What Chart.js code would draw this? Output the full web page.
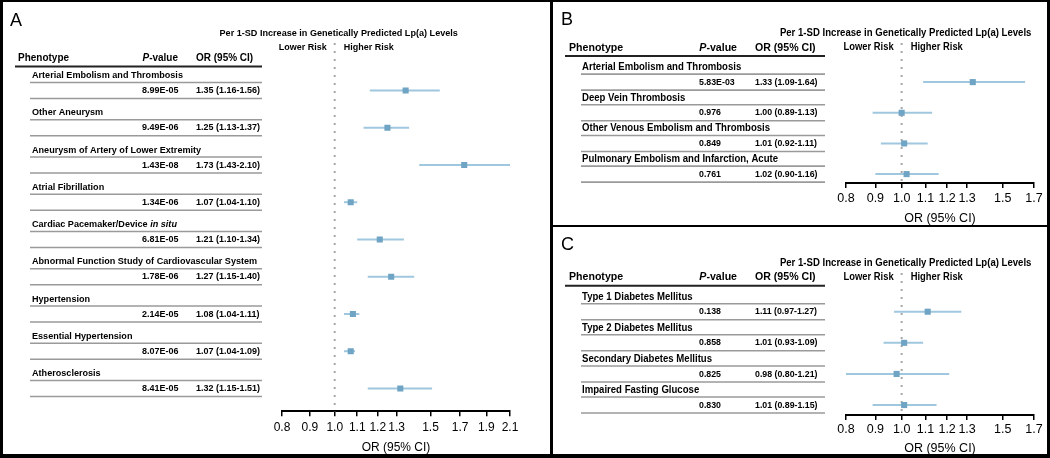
<!DOCTYPE html>
<html><head><meta charset="utf-8">
<script src="https://cdn.jsdelivr.net/npm/chart.js@4.4.0/dist/chart.umd.min.js"></script>
<style>
html,body{margin:0;padding:0;background:#fff;}
#wrap{position:relative;width:1050px;height:458px;overflow:hidden;background:#fff;}
canvas{position:absolute;}
.b{position:absolute;background:#000;}
</style></head><body>
<div id="wrap">
<canvas id="cA" width="550" height="458" style="left:0px;top:0px"></canvas>
<canvas id="cB" width="499" height="226" style="left:551px;top:0px"></canvas>
<canvas id="cC" width="499" height="232" style="left:551px;top:226px"></canvas>
<div class="b" style="left:0;top:0;width:1050px;height:2px"></div>
<div class="b" style="left:0;top:0;width:3px;height:458px"></div>
<div class="b" style="left:1047px;top:0;width:3px;height:458px"></div>
<div class="b" style="left:0;top:454px;width:1050px;height:4px"></div>
<div class="b" style="left:550px;top:0;width:3px;height:458px"></div>
<div class="b" style="left:550px;top:225px;width:500px;height:2px"></div>
</div>
<script>
// ---------- Data ----------
const namesA = ["Arterial Embolism and Thrombosis","Other Aneurysm","Aneurysm of Artery of Lower Extremity","Atrial Fibrillation","Cardiac Pacemaker/Device *in situ*","Abnormal Function Study of Cardiovascular System","Hypertension","Essential Hypertension","Atherosclerosis"];
const pA  = ["8.99E-05","9.49E-06","1.43E-08","1.34E-06","6.81E-05","1.78E-06","2.14E-05","8.07E-06","8.41E-05"];
const orA = [1.35,1.25,1.73,1.07,1.21,1.27,1.08,1.07,1.32];
const loA = [1.16,1.13,1.43,1.04,1.10,1.15,1.04,1.04,1.15];
const hiA = [1.56,1.37,2.10,1.10,1.34,1.40,1.11,1.09,1.51];

const namesB = ["Arterial Embolism and Thrombosis","Deep Vein Thrombosis","Other Venous Embolism and Thrombosis","Pulmonary Embolism and Infarction, Acute"];
const pB  = ["5.83E-03","0.976","0.849","0.761"];
const orB = [1.33,1.00,1.01,1.02];
const loB = [1.09,0.89,0.92,0.90];
const hiB = [1.64,1.13,1.11,1.16];

const namesC = ["Type 1 Diabetes Mellitus","Type 2 Diabetes Mellitus","Secondary Diabetes Mellitus","Impaired Fasting Glucose"];
const pC  = ["0.138","0.858","0.825","0.830"];
const orC = [1.11,1.01,0.98,1.01];
const loC = [0.97,0.93,0.80,0.89];
const hiC = [1.27,1.09,1.21,1.15];

const ticksA  = [0.8,0.9,1.0,1.1,1.2,1.3,1.5,1.7,1.9,2.1];
const ticksBC = [0.8,0.9,1.0,1.1,1.2,1.3,1.5,1.7];

const TITLE = "Per 1-SD Increase in Genetically Predicted Lp(a) Levels";
const HDR = ["Phenotype","*P*-value","OR (95% CI)"];
const RISK = ["Lower Risk","Higher Risk"];
const XTITLE = "OR (95% CI)";

// ---------- Style ----------
const FF = '"Liberation Sans", Arial, Helvetica, sans-serif';
const PT_COLOR = '#6fa4c5';
const CI_COLOR = '#9fc7de';
const SX = 0.92; // slight horizontal condensing of table text

function drawRich(ctx, text, x, y, size, weight, align, sx){
  sx = sx || 1;
  const fs = size / sx;
  const parts = text.split('*');
  const ws = []; let total = 0;
  parts.forEach((p,i)=>{ ctx.font = (i%2 ? 'italic ' : '') + weight + ' ' + fs + 'px ' + FF; const w = ctx.measureText(p).width * sx; ws.push(w); total += w; });
  let cx = align==='right' ? x-total : (align==='center' ? x-total/2 : x);
  ctx.save();
  ctx.textAlign='left'; ctx.textBaseline='middle'; ctx.fillStyle = '#000';
  parts.forEach((p,i)=>{
    ctx.font = (i%2 ? 'italic ' : '') + weight + ' ' + fs + 'px ' + FF;
    ctx.save(); ctx.translate(cx, y); ctx.scale(sx, 1); ctx.fillText(p, 0, 0); ctx.restore();
    cx += ws[i];
  });
  ctx.restore();
}
function hline(ctx, x1, x2, y, color, w){
  ctx.save(); ctx.strokeStyle=color; ctx.lineWidth=w; ctx.beginPath(); ctx.moveTo(x1,y); ctx.lineTo(x2,y); ctx.stroke(); ctx.restore();
}
function fmt(v){ return v.toFixed(2); }

function buildPanel(id, letter, names, pvals, ors, los, his, ticks, xmax, L){
  const rows = ors.map((v,i)=>({x:v, y:i}));
  const plugin = {
    id: 'forest' + id,
    beforeDatasetsDraw(chart){
      const ctx = chart.ctx, a = chart.chartArea, x = chart.scales.x, y = chart.scales.y;
      ctx.save();
      const x1 = x.getPixelForValue(1);
      ctx.strokeStyle = '#a8a8a8'; ctx.lineWidth = 2; ctx.setLineDash([2,6]);
      ctx.beginPath(); ctx.moveTo(x1, a.top - 2); ctx.lineTo(x1, a.bottom); ctx.stroke();
      ctx.setLineDash([]);
      ctx.strokeStyle = CI_COLOR; ctx.lineWidth = 2;
      ors.forEach((v,i)=>{
        const yy = y.getPixelForValue(i);
        ctx.beginPath(); ctx.moveTo(x.getPixelForValue(los[i]), yy); ctx.lineTo(x.getPixelForValue(his[i]), yy); ctx.stroke();
      });
      ctx.restore();
    },
    afterDraw(chart){
      const ctx = chart.ctx, a = chart.chartArea, x = chart.scales.x, y = chart.scales.y;
      ctx.save();
      drawRich(ctx, letter, L.letterX, L.letterY, 18, 'normal', 'left');
      const x1 = x.getPixelForValue(1);
      drawRich(ctx, TITLE, x1 + 4, a.top - 12, L.fTitle, 'bold', 'center', SX);
      drawRich(ctx, RISK[0], x1 - 8, a.top + 2, L.fRisk, 'bold', 'right', SX);
      drawRich(ctx, RISK[1], x1 + 9, a.top + 2, L.fRisk, 'bold', 'left', SX);
      const r0 = y.getPixelForValue(0);
      drawRich(ctx, HDR[0], L.phenX, r0 + L.hdrDy, L.fHdr, 'bold', 'left', SX);
      drawRich(ctx, HDR[1], L.pRight, r0 + L.hdrDy, L.fHdr, 'bold', 'right', SX);
      drawRich(ctx, HDR[2], L.orX, r0 + L.hdrDy, L.fHdr, 'bold', 'left', SX);
      hline(ctx, L.ulL, L.lineR, r0 + L.ulDy, '#222', 2);
      names.forEach((n,i)=>{
        const r = y.getPixelForValue(i);
        drawRich(ctx, n, L.nameX, r - 15, L.fName, 'bold', 'left', SX);
        hline(ctx, L.lineL, L.lineR, r - 8, '#9a9a9a', 1.6);
        drawRich(ctx, pvals[i], L.pX, r, L.fVal, 'bold', 'left', SX);
        drawRich(ctx, fmt(ors[i]) + ' (' + fmt(los[i]) + '-' + fmt(his[i]) + ')', L.orX, r, L.fVal, 'bold', 'left', SX);
        hline(ctx, L.lineL, L.lineR, r + 8, '#9a9a9a', 1.6);
      });
      ctx.restore();
    }
  };
  return new Chart(document.getElementById(id), {
    type: 'scatter',
    data: { datasets: [{ data: rows, pointStyle: 'rect', pointRadius: 4.3, pointHoverRadius: 4.3, backgroundColor: PT_COLOR, borderWidth: 0 }] },
    options: {
      responsive: false, animation: false, devicePixelRatio: 1, events: [],
      layout: { padding: { left: L.padL, right: L.padR, top: L.padT, bottom: L.padB } },
      plugins: { legend: { display: false }, tooltip: { enabled: false } },
      scales: {
        x: {
          type: 'logarithmic', min: 0.8, max: xmax,
          afterBuildTicks: s => { s.ticks = ticks.map(v => ({ value: v })); },
          ticks: { autoSkip: false, maxRotation: 0, minRotation: 0, padding: L.tickPad, color: '#000',
                   font: { family: FF, size: L.fAxis }, callback: v => Number(v).toFixed(1) },
          grid: { drawOnChartArea: false, drawTicks: true, tickLength: 5, color: '#000', lineWidth: 1.5 },
          border: { display: true, color: '#000', width: 2 },
          title: { display: true, text: XTITLE, color: '#000', font: { family: FF, size: L.fAxis }, padding: { top: 2, bottom: 0 } }
        },
        y: { type: 'linear', reverse: true, min: L.ymin, max: L.ymax, display: false }
      }
    },
    plugins: [plugin]
  });
}

buildPanel('cA', 'A', namesA, pA, orA, loA, hiA, ticksA, 2.1, {
  padL: 282, padR: 40, padT: 45, padB: 3, ymin: -1.22, ymax: 8.61, tickPad: 4,
  letterX: 10, letterY: 21, hdrDy: -32, ulDy: -24, phenX: 18, pRight: 178, orX: 196,
  ulL: 15, nameX: 32, lineL: 30, lineR: 262, pX: 142,
  fTitle: 9.1, fHdr: 10, fName: 9.1, fVal: 9, fRisk: 9, fAxis: 12
});
buildPanel('cB', 'B', namesB, pB, orB, loB, hiB, ticksBC, 1.7, {
  padL: 295, padR: 16, padT: 45, padB: 0, ymin: -1.21, ymax: 3.29, tickPad: 3,
  letterX: 10, letterY: 20, hdrDy: -34, ulDy: -26, phenX: 18, pRight: 186, orX: 204,
  ulL: 14, nameX: 31, lineL: 30, lineR: 274, pX: 148,
  fTitle: 9.6, fHdr: 10.6, fName: 9.6, fVal: 8.8, fRisk: 9.4, fAxis: 12.5
});
buildPanel('cC', 'C', namesC, pC, orC, loC, hiC, ticksBC, 1.7, {
  padL: 295, padR: 16, padT: 49, padB: 2, ymin: -1.18, ymax: 3.32, tickPad: 2,
  letterX: 10, letterY: 19, hdrDy: -35, ulDy: -26, phenX: 18, pRight: 186, orX: 204,
  ulL: 14, nameX: 31, lineL: 30, lineR: 274, pX: 148,
  fTitle: 9.6, fHdr: 10.6, fName: 9.6, fVal: 8.8, fRisk: 9.4, fAxis: 12.5
});
</script>
</body></html>
